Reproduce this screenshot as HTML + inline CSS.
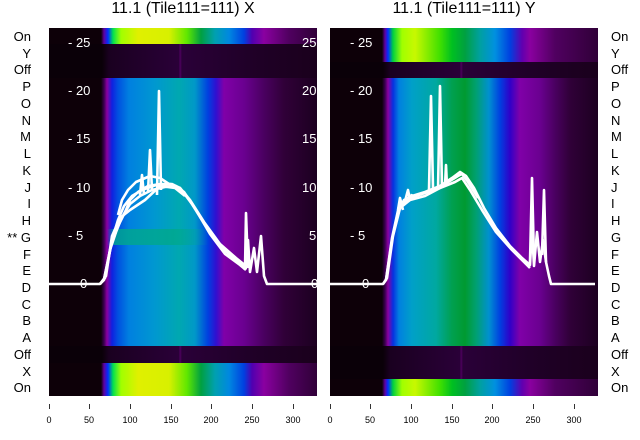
<!DOCTYPE html><html><head><meta charset="utf-8"><style>
body{margin:0;background:#fff;width:640px;height:440px;overflow:hidden;font-family:"Liberation Sans","DejaVu Sans",sans-serif;position:relative}
.p{position:absolute;top:28px;height:368px;width:268px;overflow:hidden;background:#0d0008}
.r{position:absolute;left:0;width:268px;height:16.73px}
.dk{background:linear-gradient(90deg,#0a0008 0,#0a0008 53px,#1a0020 60px,#2a0038 130px,#500060 131px,#2a0038 133px,#200028 200px,#1a001c 268px)}
.onL{background:linear-gradient(90deg,#0d0008 0,#0d0008 52px,#6000a0 55px,#0030ff 59px,#00e050 64px,#a0ff00 72px,#e0f000 89px,#d8f000 120px,#60e800 138px,#00a040 152px,#00a0b0 166px,#0088e0 180px,#0040e0 195px,#5000b0 203px,#8a00a0 215px,#500060 240px,#300038 268px)}
.dL{background:linear-gradient(90deg,#0d0008 0,#0d0008 52px,#3a0050 55px,#8a00a0 58px,#1020e0 63px,#0050e0 69px,#0080e0 80px,#0098d0 106px,#00a8b0 130px,#0098c8 146px,#0040e0 159px,#3010d0 167px,#8000a8 175px,#6a0090 195px,#4a0060 215px,#300038 235px,#1c0020 268px)}
.dR{background:linear-gradient(90deg,#0d0008 0,#0d0008 52px,#3a0050 55px,#8a00a0 58px,#0830e0 63px,#0080e0 69px,#00a0c8 82px,#00a8a0 106px,#00a050 122px,#009a30 135px,#00a070 146px,#0090d0 159px,#0040e0 170px,#3000c8 180px,#8000a8 190px,#6a0090 210px,#4a0060 225px,#300038 240px,#1c0020 268px)}
.onR{background:linear-gradient(90deg,#0d0008 0,#0d0008 52px,#6000a0 55px,#0030ff 58px,#00d040 63px,#a0ff00 72px,#c8f800 85px,#40e000 110px,#00c020 122px,#00a040 135px,#00a0a0 150px,#0090e0 165px,#0040e0 180px,#6000b0 192px,#8a00a0 200px,#500060 225px,#300038 268px)}
.t{position:absolute;color:#fff;font-size:13px}
.lab{position:absolute;font-size:13px;color:#000;line-height:16px}
.xt{position:absolute;top:415px;font-size:9px;color:#000;transform:translateX(-50%)}
.tk{position:absolute;top:404px;width:1px;height:5px;background:#333}
h1{position:absolute;top:0;margin:0;font-weight:normal;font-size:16px;width:268px;text-align:center}
</style></head><body>
<h1 style="left:49px">11.1 (Tile111=111) X</h1>
<h1 style="left:330px">11.1 (Tile111=111) Y</h1>

<div class="p" style="left:49px">
<div class="r onL" style="top:0;height:16px"></div>
<div class="r dk" style="top:16px;height:34px"></div>
<div class="r dL" style="top:50.2px;height:267.7px"></div>
<div class="r" style="top:200.8px;height:16.7px;background:linear-gradient(90deg,transparent 0,transparent 58px,rgba(0,168,140,0.8) 66px,rgba(0,168,140,0.8) 125px,transparent 160px)"></div>
<div class="r dk" style="top:318px"></div>
<div class="r onL" style="top:334.7px;height:34px"></div>
</div>

<div class="p" style="left:330px">
<div class="r onR" style="top:0;height:33.5px"></div>
<div class="r dk" style="top:33.5px"></div>
<div class="r dR" style="top:50.2px;height:267.7px"></div>
<div class="r dk" style="top:318px;height:33.5px"></div>
<div class="r onR" style="top:351.4px;height:17px"></div>
</div>

<svg style="position:absolute;left:0;top:0" width="640" height="440">
<g fill="none" stroke="#fff" stroke-width="2.6" stroke-linejoin="round">
<polyline points="49,284 100,284 104,280 110,250 116,232 120,222 126,210 130,200 138,192 148,186 160,184 172,184 180,188 192,204 207,228 222,248 238,262 246,268 248,240 250,272 254,248 257,272 261,236 264,276 267,284 317,284"/>
<polyline points="100,284 104,279 111,246 118,226 124,214 130,204 140,196 152,190 165,187 176,186 184,192 196,210 210,234 225,254 240,265 246,270"/>
<polyline points="100,284 105,278 112,240 118,220 124,206 132,196 142,190 156,185 170,184 180,188 190,200 204,222 220,244 236,258 246,266"/>
<polyline points="118,215 122,200 128,190 136,182 150,176 160,178 172,186"/>
<polyline points="100,284 106,276 112,236 120,218 130,210 145,200 160,186 175,188 185,196"/>
<polyline points="157,195 159,91 161,190"/><polyline points="148,192 150,150 152,190"/><polyline points="140,195 142,175 144,195"/>
<polyline points="245,270 246,213 248,268"/>
<polyline points="330,284 383,284 386,280 392,240 398,212 404,200 412,196 425,192 440,186 452,178 460,172 466,176 474,188 484,208 496,228 510,246 522,258 530,265 532,230 534,266 537,232 540,262 543,240 546,262 549,276 551,284 595,284"/>
<polyline points="383,284 387,278 393,236 400,208 410,200 425,196 440,188 455,182 462,178 470,190 482,210 496,232 512,250 530,268"/>
<polyline points="386,280 392,238 399,206 410,198 428,192 445,184 458,176 462,174 468,182 478,198"/>
<polyline points="404,205 408,190 410,200 412,194"/><polyline points="398,210 400,198 403,210"/>
<polyline points="429,190 431,96 433,188"/><polyline points="438,190 440,86 442,188"/><polyline points="445,186 446,165 447,186"/>
<polyline points="530,262 532,178 534,260"/><polyline points="542,255 544,190 546,262"/>
</g></svg>

<div class="t" style="left:68px;top:35px">- 25</div>
<div class="t" style="left:68px;top:83px">- 20</div>
<div class="t" style="left:68px;top:131px">- 15</div>
<div class="t" style="left:68px;top:180px">- 10</div>
<div class="t" style="left:68px;top:228px">- 5</div>
<div class="t" style="left:80px;top:276px">0</div>
<div class="t" style="left:302px;top:35px">25</div>
<div class="t" style="left:302px;top:83px">20</div>
<div class="t" style="left:302px;top:131px">15</div>
<div class="t" style="left:302px;top:180px">10</div>
<div class="t" style="left:309px;top:228px">5</div>
<div class="t" style="left:311px;top:276px">0</div>
<div class="t" style="left:350px;top:35px">- 25</div>
<div class="t" style="left:350px;top:83px">- 20</div>
<div class="t" style="left:350px;top:131px">- 15</div>
<div class="t" style="left:350px;top:180px">- 10</div>
<div class="t" style="left:350px;top:228px">- 5</div>
<div class="t" style="left:362px;top:276px">0</div>

<div style="position:absolute;left:0;top:29px;width:31px;text-align:right">
<div class="lab" style="position:static;line-height:16.73px">On<br>Y<br>Off<br>P<br>O<br>N<br>M<br>L<br>K<br>J<br>I<br>H<br>** G<br>F<br>E<br>D<br>C<br>B<br>A<br>Off<br>X<br>On</div></div>
<div style="position:absolute;left:611px;top:29px">
<div class="lab" style="position:static;line-height:16.73px">On<br>Y<br>Off<br>P<br>O<br>N<br>M<br>L<br>K<br>J<br>I<br>H<br>G<br>F<br>E<br>D<br>C<br>B<br>A<br>Off<br>X<br>On</div></div>

<div class="tk" style="left:49px"></div><div class="tk" style="left:89px"></div><div class="tk" style="left:130px"></div><div class="tk" style="left:171px"></div><div class="tk" style="left:211px"></div><div class="tk" style="left:252px"></div><div class="tk" style="left:293px"></div>
<div class="xt" style="left:49px">0</div><div class="xt" style="left:89px">50</div><div class="xt" style="left:130px">100</div><div class="xt" style="left:171px">150</div><div class="xt" style="left:211px">200</div><div class="xt" style="left:252px">250</div><div class="xt" style="left:293px">300</div>
<div class="tk" style="left:330px"></div><div class="tk" style="left:370px"></div><div class="tk" style="left:411px"></div><div class="tk" style="left:452px"></div><div class="tk" style="left:492px"></div><div class="tk" style="left:533px"></div><div class="tk" style="left:574px"></div>
<div class="xt" style="left:330px">0</div><div class="xt" style="left:370px">50</div><div class="xt" style="left:411px">100</div><div class="xt" style="left:452px">150</div><div class="xt" style="left:492px">200</div><div class="xt" style="left:533px">250</div><div class="xt" style="left:574px">300</div>
</body></html>
